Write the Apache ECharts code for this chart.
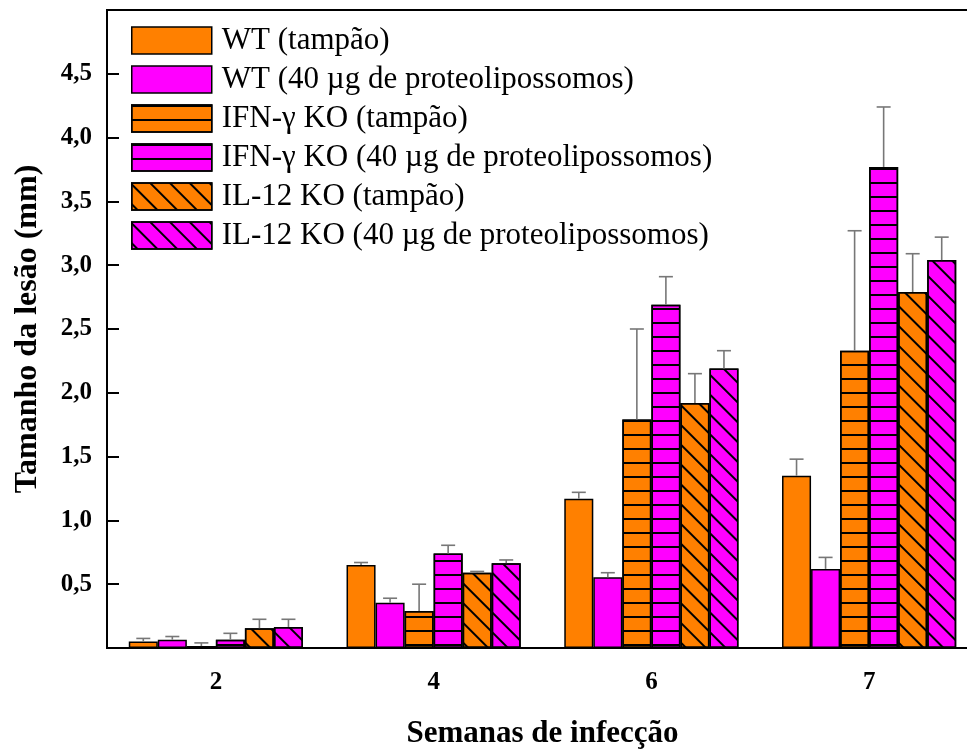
<!DOCTYPE html>
<html>

<head>
  <meta charset="utf-8">
  <title>Tamanho da lesão</title>
  <script src="https://cdn.jsdelivr.net/npm/echarts@6/dist/echarts.min.js"></script>
  <style>
    html, body { margin: 0; padding: 0; background: #fff; }
    #chart { width: 967px; height: 749px; }
  </style>
</head>

<body>
  <div id="chart"></div>
  <script>
    // semanas de infecção
    var weeks = ['2', '4', '6', '7'];

    // médias (mm)
    var wtBuffer = [0.05, 0.65, 1.17, 1.35];
    var wtLipo = [0.065, 0.355, 0.555, 0.62];
    var ifnBuffer = [0.015, 0.29, 1.79, 2.33];
    var ifnLipo = [0.065, 0.74, 2.69, 3.77];
    var il12Buffer = [0.155, 0.59, 1.92, 2.79];
    var il12Lipo = [0.165, 0.665, 2.19, 3.04];

    // desvio (só a parte de cima)
    var wtBufferErr = [0.025, 0.02, 0.05, 0.13];
    var wtLipoErr = [0.025, 0.035, 0.035, 0.09];
    var ifnBufferErr = [0.025, 0.21, 0.71, 0.94];
    var ifnLipoErr = [0.05, 0.065, 0.22, 0.47];
    var il12BufferErr = [0.07, 0.01, 0.23, 0.30];
    var il12LipoErr = [0.06, 0.025, 0.14, 0.18];

    var names = [
      'WT (tampão)',
      'WT (40 µg de proteolipossomos)',
      'IFN-γ KO (tampão)',
      'IFN-γ KO (40 µg de proteolipossomos)',
      'IL-12 KO (tampão)',
      'IL-12 KO (40 µg de proteolipossomos)'
    ];
    var means = [wtBuffer, wtLipo, ifnBuffer, ifnLipo, il12Buffer, il12Lipo];
    var errs = [wtBufferErr, wtLipoErr, ifnBufferErr, ifnLipoErr, il12BufferErr, il12LipoErr];

    var ORANGE = '#ff8000';
    var MAGENTA = '#ff00ff';
    var colors = [ORANGE, MAGENTA, ORANGE, MAGENTA, ORANGE, MAGENTA];

    var hLines = { symbol: 'rect', symbolSize: 1, color: '#000', dashArrayX: [1, 0], dashArrayY: [1.2, 12], rotation: 0 };
    var dLines = { symbol: 'rect', symbolSize: 1, color: '#000', dashArrayX: [1, 0], dashArrayY: [1.2, 12], rotation: Math.PI / 4 };
    var decals = [null, null, hLines, hLines, dLines, dLines];

    var FONT = 'Liberation Serif';

    var series = [];
    for (var i = 0; i < 6; i++) {
      var st = { color: colors[i], borderColor: '#000', borderWidth: 1.5 };
      if (decals[i]) st.decal = decals[i];
      series.push({
        name: names[i],
        type: 'bar',
        data: means[i],
        barGap: '0%',
        barCategoryGap: '20%',
        itemStyle: st,
        emphasis: { disabled: true }
      });
    }

    // barras de erro
    var errData = [];
    for (var s = 0; s < 6; s++) {
      for (var k = 0; k < weeks.length; k++) {
        errData.push([k, s, means[s][k], means[s][k] + errs[s][k]]);
      }
    }
    series.push({
      type: 'custom',
      data: errData,
      encode: { x: 0, y: 3 },
      z: 10,
      silent: true,
      renderItem: function (params, api) {
        var idx = api.value(0);
        var s = api.value(1);
        var base = api.coord([idx, api.value(2)]);
        var top = api.coord([idx, api.value(3)]);
        var band = api.size([1, 0])[0];
        var bw = band * 0.8 / 6;
        var x = base[0] + (s - 2.5) * bw;
        var style = { stroke: '#777', lineWidth: 1.6 };
        return {
          type: 'group',
          children: [
            { type: 'line', shape: { x1: x, y1: base[1], x2: x, y2: top[1] }, style: style },
            { type: 'line', shape: { x1: x - 7, y1: top[1], x2: x + 7, y2: top[1] }, style: style }
          ]
        };
      }
    });

    var chart = echarts.init(document.getElementById('chart'));
    var option = {
      animation: false,
      backgroundColor: '#fff',
      grid: {
        left: 107, right: -11, top: 10, bottom: 101,
        outerBoundsMode: 'none',
        containLabel: false,
        show: true, borderColor: '#000', borderWidth: 2, backgroundColor: 'transparent'
      },
      legend: {
        data: names,
        orient: 'vertical',
        left: 131,
        top: 25,
        padding: 0,
        itemWidth: 80,
        itemHeight: 27,
        itemGap: 8,
        icon: 'rect',
        itemStyle: { borderColor: '#000', borderWidth: 1.5 },
        textStyle: { fontFamily: FONT, fontSize: 31, color: '#000', padding: [0, 0, 0, 5] }
      },
      xAxis: {
        type: 'category',
        data: weeks,
        name: 'Semanas de infecção',
        nameLocation: 'middle',
        nameGap: 70,
        nameTextStyle: { fontFamily: FONT, fontSize: 31, fontWeight: 'bold', color: '#000' },
        axisLine: { lineStyle: { color: '#000', width: 2 } },
        axisTick: { alignWithLabel: true, length: 12, lineStyle: { color: '#000', width: 2 } },
        axisLabel: { fontFamily: FONT, fontSize: 25, fontWeight: 'bold', color: '#000', margin: 22 }
      },
      yAxis: {
        type: 'value',
        min: 0,
        max: 5,
        interval: 0.5,
        name: 'Tamanho da lesão (mm)',
        nameLocation: 'middle',
        nameGap: 63,
        nameTextStyle: { fontFamily: FONT, fontSize: 32, fontWeight: 'bold', color: '#000' },
        axisLine: { show: true, lineStyle: { color: '#000', width: 2 } },
        axisTick: { show: true, inside: true, length: 12, lineStyle: { color: '#000', width: 2 } },
        splitLine: { show: false },
        axisLabel: {
          fontFamily: FONT, fontSize: 25, fontWeight: 'bold', color: '#000', margin: 15,
          formatter: function (v) {
            if (v === 0 || v === 5) return '';
            return v.toFixed(1).replace('.', ',');
          }
        }
      },
      series: series
    };
    chart.setOption(option);
  </script>
</body>

</html>
